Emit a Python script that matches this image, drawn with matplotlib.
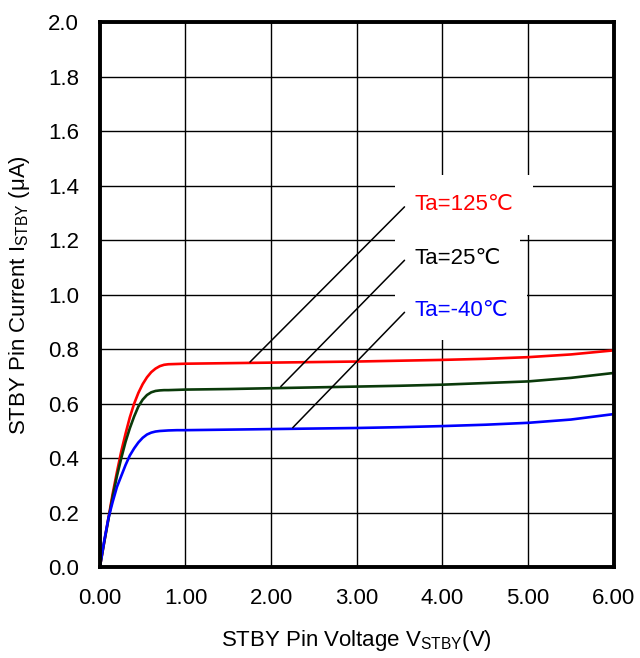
import numpy as np
import matplotlib.pyplot as plt

plt.rcParams['font.family'] = ['Liberation Sans', 'DejaVu Sans']
plt.rcParams['mathtext.fontset'] = 'custom'
plt.rcParams['mathtext.rm'] = 'Liberation Sans'

# STBY pin voltage (V)
volt = [0, 0.05, 0.1, 0.15, 0.2, 0.25, 0.3, 0.35, 0.4, 0.45, 0.5, 0.55, 0.6,
        0.65, 0.7, 0.75, 0.8, 0.9, 1.0, 1.5, 2.0, 2.5, 3.0, 3.5, 4.0, 4.5,
        5.0, 5.5, 6.0]
# STBY pin current (uA) per temperature
i_125 = [0, 0.09, 0.18, 0.27, 0.35, 0.425, 0.49, 0.55, 0.60, 0.64, 0.672,
         0.697, 0.716, 0.729, 0.738, 0.743, 0.745, 0.746, 0.747, 0.749, 0.751,
         0.753, 0.755, 0.758, 0.761, 0.765, 0.771, 0.781, 0.796]
i_25 = [0, 0.09, 0.175, 0.26, 0.335, 0.40, 0.46, 0.51, 0.553, 0.59, 0.615,
        0.632, 0.642, 0.647, 0.649, 0.65, 0.65, 0.651, 0.652, 0.654, 0.657,
        0.66, 0.663, 0.666, 0.670, 0.676, 0.682, 0.695, 0.713]
i_m40 = [0, 0.095, 0.18, 0.24, 0.295, 0.335, 0.375, 0.41, 0.436, 0.458, 0.475,
         0.487, 0.494, 0.498, 0.5, 0.501, 0.502, 0.503, 0.503, 0.505, 0.507,
         0.509, 0.511, 0.514, 0.518, 0.523, 0.530, 0.542, 0.562]

labels = ['Ta=125\u2103', 'Ta=25\u2103', 'Ta=-40\u2103']
colors = ['#FF0000', '#0A3A0A', '#0000FF']
text_colors = ['#FF0000', '#000000', '#0000FF']
# annotation: line start near label and tip on the curve (data coords)
label_pos = [(3.58, 1.33), (3.58, 1.134), (3.58, 0.943)]
tip_pos = [(1.73, 0.746), (2.09, 0.656), (2.23, 0.505)]

fig = plt.figure(figsize=(6.4, 6.58), dpi=100)
ax = fig.add_axes([0.156, 0.138, 0.803, 0.828])

for y, c in zip([i_125, i_25, i_m40], colors):
    ax.plot(volt, y, color=c, lw=1.9, zorder=3, solid_joinstyle='round')

ax.set_xlim(0, 6)
ax.set_ylim(0, 2.0)
ax.set_xticks(np.arange(0, 6.01, 1.0))
ax.set_xticklabels(['%.2f' % v for v in np.arange(0, 6.01, 1.0)])
ax.set_yticks(np.arange(0, 2.01, 0.2))
ax.set_yticklabels(['%.1f' % v for v in np.arange(0, 2.01, 0.2)])
ax.tick_params(length=0, labelsize=16, pad=15)
ax.grid(True, color='black', lw=1.0)
ax.set_axisbelow(True)
for s in ax.spines.values():
    s.set_linewidth(2.8)
    s.set_color('black')
    s.set_zorder(5)

for lab, tc, lp, tp in zip(labels, text_colors, label_pos, tip_pos):
    ax.annotate('', xy=tp, xytext=lp,
                arrowprops=dict(arrowstyle='-', color='black', lw=1.1), zorder=4)
    ax.text(lp[0] + 0.09, lp[1], lab, color=tc, fontsize=16, va='center', ha='left',
            zorder=2,
            bbox=dict(facecolor='white', edgecolor='none', pad=14))

ax.set_xlabel('STBY Pin Voltage V$_{\\mathrm{STBY}}$(V)', fontsize=16, va='center')
ax.set_ylabel('STBY Pin Current I$_{\\mathrm{STBY}}$ (\u03bcA)', fontsize=16, va='center')
ax.xaxis.set_label_coords(0.5, -0.134)
ax.yaxis.set_label_coords(-0.156, 0.5)

fig.savefig('out.png', dpi=100)
